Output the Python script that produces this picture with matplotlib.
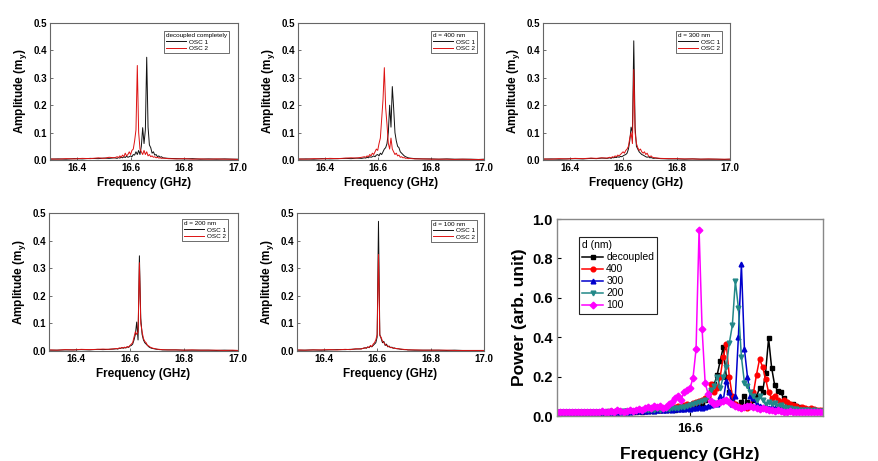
import numpy as np
import matplotlib.pyplot as plt
from matplotlib.ticker import FormatStrFormatter

plt.rcParams['font.family'] = ['Liberation Sans', 'DejaVu Sans']
plt.rcParams['font.weight'] = 'bold'
plt.rcParams['axes.labelweight'] = 'bold'
plt.rcParams['mathtext.fontset'] = 'custom'
plt.rcParams['mathtext.rm'] = 'Liberation Sans:bold'
plt.rcParams['mathtext.bf'] = 'Liberation Sans:bold'
plt.rcParams['mathtext.it'] = 'Liberation Sans:bold'

# ---------- small panels: amplitude spectra of the two oscillators ----------
small_freq = [16.30, 16.33, 16.36, 16.39, 16.42, 16.45, 16.48, 16.50, 16.52, 16.54,
              16.550, 16.555, 16.560, 16.565, 16.570, 16.575, 16.580, 16.585, 16.590, 16.595,
              16.600, 16.605, 16.610, 16.615, 16.620, 16.625, 16.630, 16.635, 16.640, 16.645,
              16.650, 16.655, 16.660, 16.665, 16.670, 16.675, 16.680, 16.685, 16.690, 16.695,
              16.700, 16.705, 16.710, 16.715, 16.720,
              16.74, 16.77, 16.80, 16.83, 16.86, 16.89, 16.92, 16.95, 16.98, 17.00]

dec_osc1 = [0.003, 0.004, 0.003, 0.005, 0.004, 0.006, 0.005, 0.007, 0.006, 0.008,
            0.006, 0.009, 0.007, 0.01, 0.008, 0.012, 0.009, 0.014, 0.01, 0.012,
            0.015, 0.012, 0.02, 0.018, 0.03, 0.02, 0.035, 0.02, 0.05, 0.118,
            0.06, 0.11, 0.375, 0.12, 0.055, 0.045, 0.025, 0.03, 0.018, 0.02,
            0.012, 0.015, 0.01, 0.012, 0.008,
            0.006, 0.005, 0.004, 0.005, 0.003, 0.004, 0.003, 0.004, 0.003, 0.003]
dec_osc2 = [0.004, 0.003, 0.005, 0.004, 0.006, 0.005, 0.008, 0.006, 0.01, 0.008,
            0.012, 0.009, 0.015, 0.01, 0.018, 0.012, 0.025, 0.015, 0.02, 0.03,
            0.02, 0.035, 0.04, 0.07, 0.11, 0.345, 0.1, 0.04, 0.03, 0.02,
            0.035, 0.02, 0.03, 0.015, 0.02, 0.012, 0.015, 0.01, 0.012, 0.008,
            0.01, 0.007, 0.008, 0.006, 0.007,
            0.005, 0.004, 0.005, 0.003, 0.004, 0.003, 0.004, 0.003, 0.003, 0.002]

d400_osc1 = [0.003, 0.004, 0.003, 0.005, 0.004, 0.005, 0.006, 0.005, 0.007, 0.006,
             0.008, 0.007, 0.01, 0.008, 0.012, 0.01, 0.012, 0.015, 0.012, 0.018,
             0.02, 0.015, 0.025, 0.02, 0.03, 0.04, 0.045, 0.06, 0.1, 0.2,
             0.12, 0.268, 0.19, 0.1, 0.07, 0.05, 0.045, 0.03, 0.025, 0.02,
             0.015, 0.012, 0.01, 0.008, 0.007,
             0.005, 0.004, 0.004, 0.003, 0.004, 0.003, 0.003, 0.003, 0.002, 0.003]
d400_osc2 = [0.004, 0.003, 0.005, 0.004, 0.006, 0.005, 0.007, 0.008, 0.007, 0.01,
             0.012, 0.01, 0.015, 0.012, 0.02, 0.015, 0.025, 0.02, 0.03, 0.04,
             0.035, 0.06, 0.08, 0.15, 0.22, 0.337, 0.19, 0.13, 0.06, 0.04,
             0.08, 0.04, 0.03, 0.02, 0.025, 0.015, 0.018, 0.01, 0.012, 0.008,
             0.009, 0.006, 0.007, 0.005, 0.006,
             0.004, 0.004, 0.003, 0.003, 0.003, 0.002, 0.003, 0.002, 0.002, 0.002]

d300_osc1 = [0.003, 0.004, 0.003, 0.004, 0.005, 0.004, 0.006, 0.005, 0.007, 0.006,
             0.008, 0.006, 0.009, 0.008, 0.01, 0.009, 0.012, 0.01, 0.013, 0.012,
             0.015, 0.018, 0.02, 0.025, 0.04, 0.07, 0.12, 0.1, 0.435, 0.12,
             0.05, 0.04, 0.03, 0.025, 0.02, 0.018, 0.015, 0.012, 0.01, 0.012,
             0.008, 0.009, 0.007, 0.006, 0.007,
             0.005, 0.004, 0.004, 0.003, 0.004, 0.003, 0.003, 0.003, 0.002, 0.003]
d300_osc2 = [0.004, 0.003, 0.005, 0.004, 0.006, 0.005, 0.007, 0.006, 0.008, 0.007,
             0.01, 0.008, 0.012, 0.01, 0.015, 0.012, 0.018, 0.015, 0.02, 0.025,
             0.03, 0.025, 0.035, 0.04, 0.05, 0.08, 0.1, 0.06, 0.33, 0.1,
             0.06, 0.045, 0.035, 0.04, 0.03, 0.025, 0.03, 0.02, 0.025, 0.015,
             0.012, 0.015, 0.01, 0.009, 0.008,
             0.006, 0.005, 0.005, 0.004, 0.004, 0.003, 0.004, 0.003, 0.003, 0.003]

d200_osc1 = [0.003, 0.003, 0.004, 0.004, 0.005, 0.004, 0.006, 0.005, 0.006, 0.007,
             0.008, 0.007, 0.01, 0.009, 0.012, 0.01, 0.012, 0.011, 0.015, 0.013,
             0.018, 0.02, 0.025, 0.04, 0.06, 0.105, 0.04, 0.345, 0.12, 0.06,
             0.04, 0.03, 0.025, 0.02, 0.015, 0.012, 0.01, 0.009, 0.008, 0.007,
             0.006, 0.006, 0.005, 0.005, 0.004,
             0.004, 0.004, 0.003, 0.003, 0.003, 0.003, 0.002, 0.003, 0.002, 0.002]
d200_osc2 = [0.004, 0.003, 0.005, 0.004, 0.006, 0.005, 0.006, 0.007, 0.006, 0.008,
             0.009, 0.008, 0.011, 0.01, 0.013, 0.011, 0.014, 0.012, 0.016, 0.014,
             0.02, 0.025, 0.03, 0.05, 0.07, 0.06, 0.07, 0.32, 0.1, 0.07,
             0.045, 0.035, 0.03, 0.02, 0.018, 0.014, 0.012, 0.01, 0.009, 0.008,
             0.007, 0.006, 0.006, 0.005, 0.005,
             0.004, 0.004, 0.003, 0.004, 0.003, 0.003, 0.003, 0.002, 0.003, 0.002]

d100_osc1 = [0.003, 0.003, 0.004, 0.003, 0.004, 0.005, 0.005, 0.006, 0.007, 0.008,
             0.01, 0.012, 0.01, 0.015, 0.012, 0.018, 0.015, 0.02, 0.025, 0.03,
             0.05, 0.47, 0.06, 0.045, 0.03, 0.035, 0.02, 0.025, 0.015, 0.018,
             0.012, 0.014, 0.01, 0.011, 0.009, 0.008, 0.008, 0.007, 0.006, 0.006,
             0.005, 0.005, 0.005, 0.004, 0.004,
             0.003, 0.003, 0.003, 0.003, 0.002, 0.003, 0.002, 0.002, 0.002, 0.002]
d100_osc2 = [0.004, 0.003, 0.004, 0.004, 0.005, 0.004, 0.006, 0.005, 0.008, 0.007,
             0.011, 0.01, 0.012, 0.014, 0.013, 0.02, 0.016, 0.025, 0.03, 0.04,
             0.06, 0.35, 0.055, 0.05, 0.035, 0.03, 0.025, 0.02, 0.018, 0.015,
             0.013, 0.012, 0.011, 0.01, 0.009, 0.009, 0.008, 0.007, 0.007, 0.006,
             0.006, 0.005, 0.005, 0.004, 0.004,
             0.004, 0.003, 0.003, 0.003, 0.003, 0.002, 0.002, 0.002, 0.002, 0.002]

small_titles = ['decoupled completely', 'd = 400 nm', 'd = 300 nm', 'd = 200 nm', 'd = 100 nm']
small_osc1 = [dec_osc1, d400_osc1, d300_osc1, d200_osc1, d100_osc1]
small_osc2 = [dec_osc2, d400_osc2, d300_osc2, d200_osc2, d100_osc2]

# ---------- big panel: power spectra ----------
big_freq = np.linspace(16.49, 16.71, 89)   # 2.5 MHz sampling grid

pw_dec = [0.02, 0.021, 0.019, 0.02, 0.02, 0.022, 0.021, 0.02, 0.019, 0.021, 0.022, 0.02,
          0.021, 0.02, 0.022, 0.02, 0.021, 0.023, 0.02, 0.022, 0.021, 0.02, 0.022, 0.021,
          0.02, 0.022, 0.021, 0.023, 0.022, 0.025, 0.024, 0.026, 0.025, 0.028, 0.03, 0.03,
          0.032, 0.03, 0.035, 0.033, 0.035, 0.04, 0.038, 0.04, 0.042, 0.045, 0.05, 0.055,
          0.06, 0.08, 0.1, 0.13, 0.16, 0.21, 0.28, 0.35, 0.2, 0.12, 0.08, 0.06,
          0.05, 0.07, 0.1, 0.07, 0.06, 0.08, 0.1, 0.14, 0.12, 0.22, 0.394, 0.245,
          0.157, 0.127, 0.12, 0.09, 0.065, 0.05, 0.06, 0.05, 0.045, 0.04, 0.035, 0.03,
          0.03, 0.028, 0.025, 0.024, 0.022]
pw_400 = [0.021, 0.02, 0.02, 0.019, 0.021, 0.02, 0.022, 0.02, 0.021, 0.019, 0.02, 0.021,
          0.02, 0.022, 0.021, 0.02, 0.022, 0.021, 0.023, 0.022, 0.021, 0.023, 0.022, 0.024,
          0.023, 0.025, 0.024, 0.026, 0.028, 0.027, 0.03, 0.032, 0.03, 0.035, 0.033, 0.038,
          0.04, 0.038, 0.042, 0.045, 0.05, 0.048, 0.055, 0.06, 0.058, 0.065, 0.07, 0.075,
          0.08, 0.09, 0.1, 0.16, 0.12, 0.14, 0.2, 0.3, 0.365, 0.2, 0.1, 0.06,
          0.05, 0.04, 0.045, 0.04, 0.05, 0.12, 0.21, 0.288, 0.25, 0.19, 0.12, 0.09,
          0.1, 0.08, 0.07, 0.08, 0.07, 0.06, 0.055, 0.05, 0.04, 0.045, 0.04, 0.035,
          0.04, 0.035, 0.03, 0.03, 0.028]
pw_300 = [0.018, 0.02, 0.019, 0.021, 0.02, 0.019, 0.02, 0.021, 0.019, 0.02, 0.02, 0.021,
          0.02, 0.019, 0.021, 0.02, 0.02, 0.022, 0.021, 0.02, 0.022, 0.021, 0.023, 0.022,
          0.022, 0.024, 0.023, 0.025, 0.024, 0.026, 0.025, 0.028, 0.027, 0.03, 0.029, 0.032,
          0.03, 0.034, 0.032, 0.035, 0.034, 0.037, 0.036, 0.04, 0.038, 0.042, 0.04, 0.045,
          0.043, 0.048, 0.05, 0.055, 0.07, 0.06, 0.1, 0.08, 0.18, 0.12, 0.06, 0.1,
          0.4, 0.77, 0.34, 0.2, 0.1, 0.09, 0.06, 0.05, 0.045, 0.05, 0.04, 0.045,
          0.04, 0.035, 0.04, 0.035, 0.03, 0.035, 0.03, 0.032, 0.028, 0.03, 0.028, 0.03,
          0.026, 0.028, 0.025, 0.026, 0.024]
pw_200 = [0.019, 0.02, 0.021, 0.019, 0.02, 0.02, 0.021, 0.019, 0.02, 0.021, 0.02, 0.019,
          0.02, 0.021, 0.02, 0.022, 0.021, 0.02, 0.022, 0.021, 0.023, 0.022, 0.024, 0.023,
          0.024, 0.026, 0.025, 0.028, 0.027, 0.03, 0.029, 0.032, 0.031, 0.035, 0.033, 0.036,
          0.035, 0.038, 0.04, 0.042, 0.04, 0.045, 0.048, 0.05, 0.055, 0.06, 0.065, 0.07,
          0.075, 0.08, 0.1, 0.13, 0.15, 0.2, 0.14, 0.2, 0.25, 0.37, 0.46, 0.685,
          0.55, 0.3, 0.17, 0.15, 0.12, 0.1, 0.08, 0.1, 0.08, 0.06, 0.07, 0.06,
          0.065, 0.05, 0.055, 0.045, 0.04, 0.042, 0.035, 0.038, 0.03, 0.032, 0.028, 0.03,
          0.027, 0.028, 0.025, 0.026, 0.024]
pw_100 = [0.02, 0.018, 0.021, 0.019, 0.02, 0.022, 0.018, 0.02, 0.021, 0.019, 0.02, 0.022,
          0.019, 0.021, 0.02, 0.023, 0.02, 0.022, 0.025, 0.021, 0.03, 0.026, 0.022, 0.025,
          0.028, 0.025, 0.03, 0.035, 0.032, 0.04, 0.045, 0.04, 0.05, 0.045, 0.05, 0.042,
          0.048, 0.06, 0.07, 0.09, 0.1, 0.08, 0.12, 0.13, 0.14, 0.195, 0.34, 0.945,
          0.44, 0.17, 0.11, 0.075, 0.06, 0.065, 0.07, 0.075, 0.08, 0.07, 0.06, 0.05,
          0.045, 0.04, 0.045, 0.05, 0.05, 0.045, 0.04, 0.035, 0.04, 0.035, 0.03, 0.028,
          0.025, 0.03, 0.025, 0.022, 0.02, 0.025, 0.02, 0.022, 0.018, 0.02, 0.022, 0.018,
          0.02, 0.018, 0.019, 0.02, 0.018]

big_labels = ['decoupled', '400', '300', '200', '100']
big_series = [pw_dec, pw_400, pw_300, pw_200, pw_100]
big_colors = ['#000000', '#ff0000', '#0000cc', '#228888', '#ff00ff']
big_markers = ['s', 'o', '^', 'v', 'D']

# ==========

fig = plt.figure(figsize=(8.79, 4.61), dpi=100)

rects = [[0.0569, 0.6529, 0.2139, 0.2972],
         [0.3390, 0.6529, 0.2116, 0.2972],
         [0.6177, 0.6529, 0.2127, 0.2972],
         [0.0557, 0.2386, 0.2150, 0.2993],
         [0.3379, 0.2386, 0.2127, 0.2993]]
leg_anchor = [(0.95, 0.94), (0.962, 0.94), (0.956, 0.94), (0.945, 0.955), (0.961, 0.95)]

for i in range(5):
    ax = fig.add_axes(rects[i])
    ax.plot(small_freq, small_osc1[i], color='#111111', lw=0.7, label='OSC 1')
    ax.plot(small_freq, small_osc2[i], color='#dd1111', lw=0.7, label='OSC 2')
    ax.set_xlim(16.3, 17.0)
    ax.set_ylim(0, 0.5)
    ax.set_xticks([16.4, 16.6, 16.8, 17.0])
    ax.set_yticks([0.0, 0.1, 0.2, 0.3, 0.4, 0.5])
    ax.yaxis.set_major_formatter(FormatStrFormatter('%.1f'))
    ax.tick_params(direction='in', length=2, width=0.6, labelsize=7, pad=2, color='#555555')
    for s in ax.spines.values():
        s.set_color('#666666')
        s.set_linewidth(0.8)
    ax.set_xlabel('Frequency (GHz)', fontsize=8.5, labelpad=3)
    ax.set_ylabel(r'Amplitude (m$_{\mathbf{y}}$)', fontsize=8.5, labelpad=3)
    leg = ax.legend(title=small_titles[i], loc='upper right', bbox_to_anchor=leg_anchor[i],
                    borderaxespad=0, fancybox=False, alignment='left',
                    prop={'size': 4.6, 'weight': 'normal'},
                    title_fontproperties={'size': 4.6, 'weight': 'normal'},
                    handlelength=3.2, handletextpad=0.4, labelspacing=0.15,
                    borderpad=0.3, framealpha=1)
    leg.get_frame().set_edgecolor('#333333')
    leg.get_frame().set_linewidth(0.5)

ax6 = fig.add_axes([0.6337, 0.0976, 0.3026, 0.4273])
for vals, c, m, lab in zip(big_series, big_colors, big_markers, big_labels):
    ax6.plot(big_freq, vals, color=c, marker=m, ms=3.4, lw=1.1, label=lab)
ax6.set_xlim(16.49, 16.71)
ax6.set_ylim(0, 1.0)
ax6.set_xticks([16.6])
ax6.set_yticks([0.0, 0.2, 0.4, 0.6, 0.8, 1.0])
ax6.yaxis.set_major_formatter(FormatStrFormatter('%.1f'))
ax6.tick_params(axis='y', direction='in', length=3, labelsize=10.5, pad=3)
ax6.tick_params(axis='x', direction='in', length=3, labelsize=9.5, pad=5)
for s in ax6.spines.values():
    s.set_color('#888888')
    s.set_linewidth(1.0)
ax6.set_xlabel('Frequency (GHz)', fontsize=12.5, labelpad=9)
ax6.set_ylabel('Power (arb. unit)', fontsize=12.5, labelpad=4)
leg6 = ax6.legend(title='d (nm)', loc='upper left', bbox_to_anchor=(0.083, 0.909),
                  borderaxespad=0, fancybox=False, alignment='left',
                  prop={'size': 7.5, 'weight': 'normal'},
                  title_fontproperties={'size': 7.5, 'weight': 'normal'},
                  handlelength=2.0, handletextpad=0.3, labelspacing=0.2,
                  borderpad=0.3, framealpha=1)
leg6.get_frame().set_edgecolor('#222222')
leg6.get_frame().set_linewidth(0.8)

plt.savefig('out.png', dpi=100)
